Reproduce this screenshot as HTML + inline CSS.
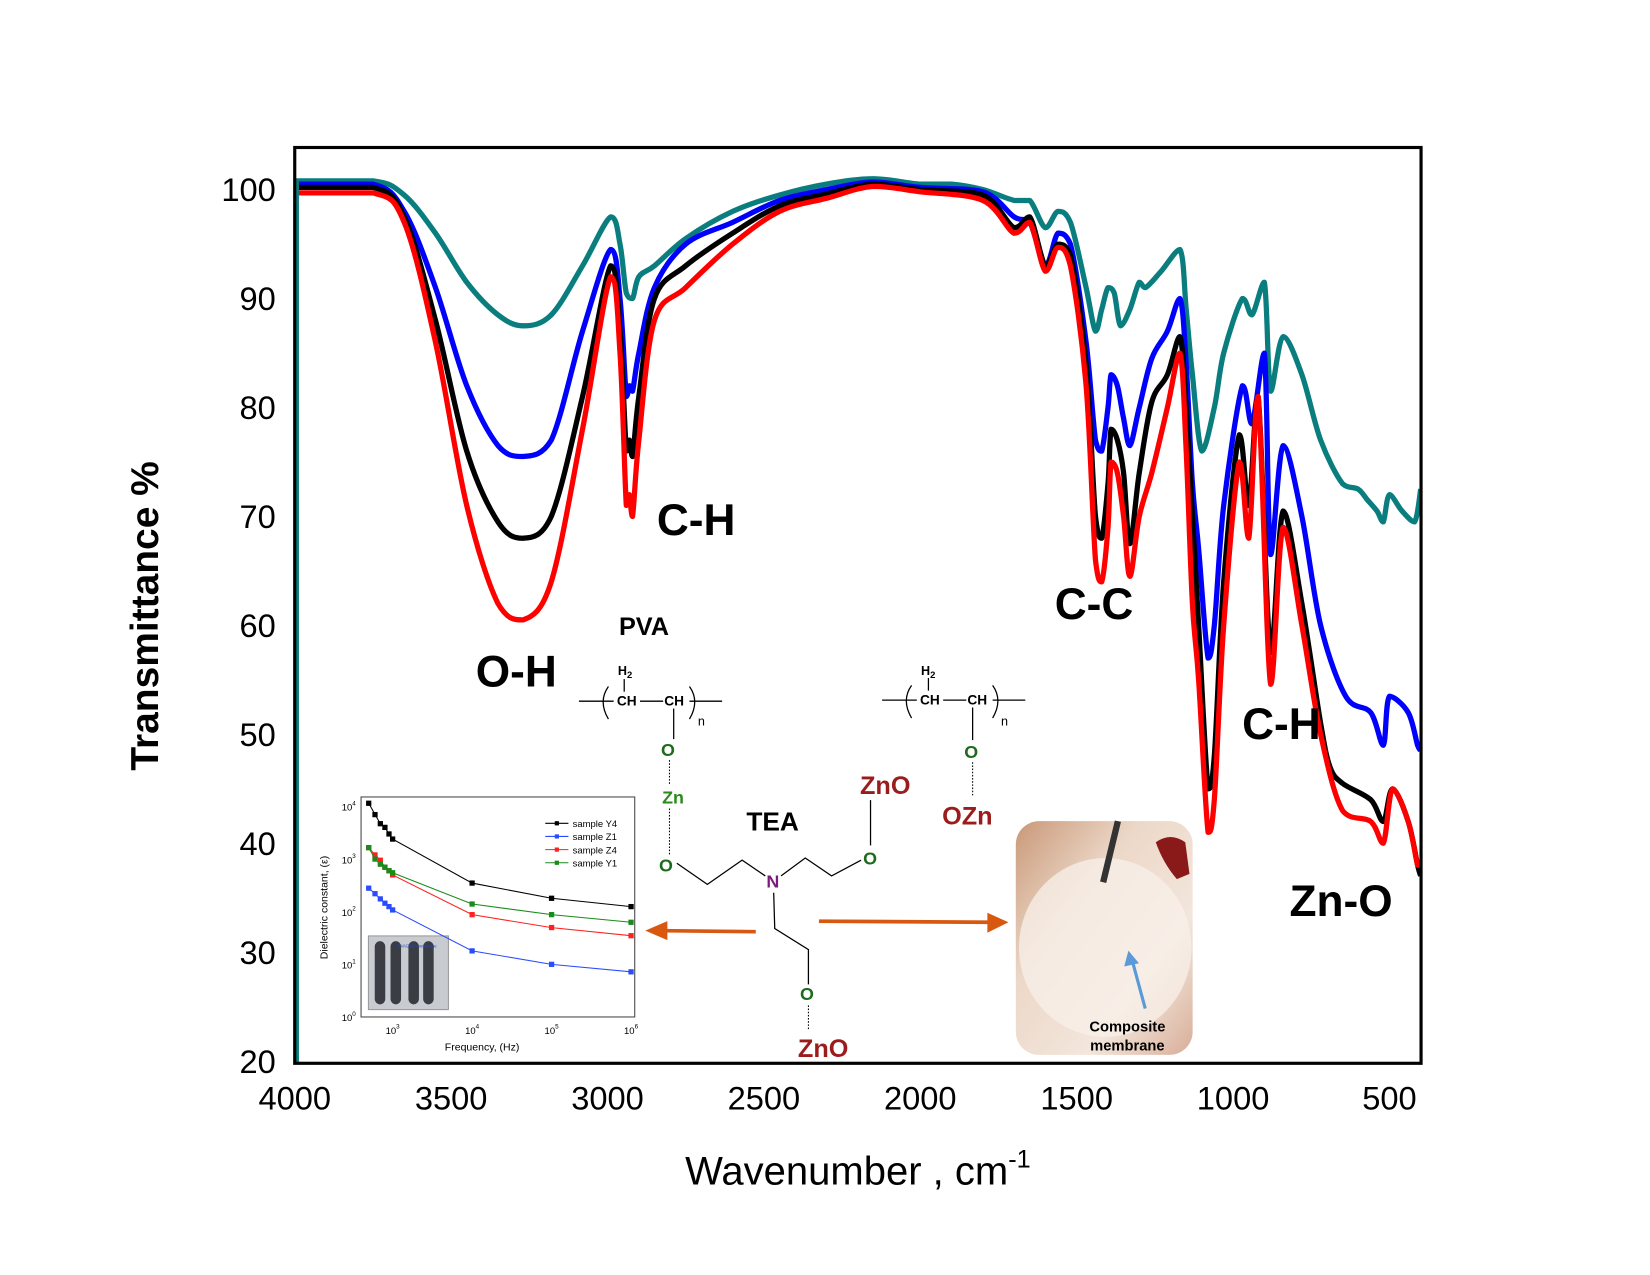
<!DOCTYPE html>
<html><head><meta charset="utf-8"><style>
html,body{margin:0;padding:0;background:#fff;}
svg{display:block;}
text{font-family:"Liberation Sans",sans-serif;}
</style></head><body>
<svg id="chart" width="1650" height="1275" viewBox="0 0 1567.5 1211" xmlns="http://www.w3.org/2000/svg">
<defs>
<linearGradient id="photoG" x1="0" y1="0" x2="1" y2="1">
<stop offset="0" stop-color="#c99878"/><stop offset="0.35" stop-color="#ecd8c8"/><stop offset="0.7" stop-color="#f3e6dc"/><stop offset="1" stop-color="#d8ae98"/>
</linearGradient>
<clipPath id="plotClip"><rect x="280" y="140" width="1070" height="870"/></clipPath>
</defs>
<g id="series" clip-path="url(#plotClip)"></g>
<rect x="280" y="140" width="1070" height="870" fill="none" stroke="#000" stroke-width="3"/>
<g id="yticks"></g>
<g id="xticks"></g>
<text transform="translate(150,585) rotate(-90)" text-anchor="middle" font-size="37" font-weight="bold">Transmittance %</text>
<text x="815" y="1125" text-anchor="middle" font-size="38">Wavenumber , cm<tspan dy="-16" font-size="24">-1</tspan></text>

<g font-weight="bold" font-size="42">
<text x="452" y="652">O-H</text>
<text x="624" y="508">C-H</text>
<text x="1002" y="588">C-C</text>
<text x="1180" y="702">C-H</text>
<text x="1225" y="870">Zn-O</text>
</g>

<g font-weight="bold">
<text x="588" y="603" font-size="24">PVA</text>
<g stroke="#000" stroke-width="1.2" fill="none">
<line x1="550" y1="666" x2="583" y2="666"/><line x1="608" y1="666" x2="630" y2="666"/><line x1="655" y1="666" x2="686" y2="666"/>
<line x1="593" y1="645" x2="593" y2="657"/><line x1="640" y1="673" x2="640" y2="702"/>
<path d="M578 652 Q568 666 578 683"/><path d="M655 652 Q665 666 655 683"/>
</g>
<text x="587" y="641" font-size="12">H<tspan font-size="9" dy="3">2</tspan></text>
<text x="586" y="670" font-size="13">CH</text><text x="631" y="670" font-size="13">CH</text>
<text x="663" y="689" font-size="12" font-weight="normal">n</text>
<text x="628" y="718" font-size="17" fill="#1e6b1e">O</text>
<line x1="636" y1="722" x2="636" y2="745" stroke="#000" stroke-dasharray="1.5 1.5"/>
<text x="629" y="763" font-size="17" fill="#2a8a1a">Zn</text>
<line x1="636" y1="768" x2="636" y2="812" stroke="#000" stroke-dasharray="1.5 1.5"/>
<text x="626" y="828" font-size="17" fill="#1e6b1e">O</text>
<g stroke="#000" stroke-width="1.2" fill="none">
<line x1="838" y1="665" x2="871" y2="665"/><line x1="896" y1="665" x2="918" y2="665"/><line x1="943" y1="665" x2="974" y2="665"/>
<line x1="882" y1="644" x2="882" y2="656"/><line x1="924" y1="672" x2="924" y2="703"/>
<path d="M866 651 Q856 665 866 682"/><path d="M943 651 Q953 665 943 682"/>
</g>
<text x="875" y="641" font-size="12">H<tspan font-size="9" dy="3">2</tspan></text>
<text x="874" y="669" font-size="13">CH</text><text x="919" y="669" font-size="13">CH</text>
<text x="951" y="689" font-size="12" font-weight="normal">n</text>
<text x="916" y="720" font-size="17" fill="#1e6b1e">O</text>
<line x1="924" y1="724" x2="924" y2="757" stroke="#000" stroke-dasharray="1.5 1.5"/>
<text x="895" y="783" font-size="24" fill="#9b1c1c">OZn</text>
<text x="709" y="789" font-size="25">TEA</text>
<text x="817" y="754" font-size="24" fill="#9b1c1c">ZnO</text>
<polyline points="643,820 672,840 705,817 727,832" fill="none" stroke="#000" stroke-width="1.2"/>
<polyline points="742,832 765,815 790,832 818,817" fill="none" stroke="#000" stroke-width="1.2"/>
<line x1="827" y1="760" x2="827" y2="803" stroke="#000" stroke-width="1.2"/>
<text x="820" y="821" font-size="17" fill="#1e6b1e">O</text>
<text x="728" y="843" font-size="17" fill="#7b1a7b">N</text>
<polyline points="735,848 736,882 768,902 768,935" fill="none" stroke="#000" stroke-width="1.2"/>
<text x="760" y="950" font-size="17" fill="#1e6b1e">O</text>
<line x1="768" y1="955" x2="768" y2="978" stroke="#000" stroke-dasharray="1.5 1.5"/>
<text x="758" y="1004" font-size="24" fill="#9b1c1c">ZnO</text>
<g><line x1="718" y1="885" x2="630" y2="884" stroke="#d9580f" stroke-width="3.5"/><polygon points="613,884 634,875 634,893" fill="#d9580f"/></g>
<g><line x1="778" y1="875" x2="940" y2="876" stroke="#d9580f" stroke-width="3.5"/><polygon points="958,876 938,867 938,886" fill="#d9580f"/></g>
</g>

<g>
<rect x="965" y="780" width="168" height="222" rx="22" fill="url(#photoG)"/>
<ellipse cx="1050" cy="900" rx="82" ry="85" fill="#f8f0ea" opacity="0.75"/>
<line x1="1048" y1="838" x2="1062" y2="780" stroke="#333" stroke-width="6"/>
<path d="M1098 800 Q1112 790 1126 800 L1130 830 L1118 835 Q1105 820 1098 800 Z" fill="#8a1a1a"/>
<line x1="1088" y1="958" x2="1075" y2="910" stroke="#5a9ad8" stroke-width="3"/>
<polygon points="1072,903 1068,918 1082,915" fill="#5a9ad8"/>
<text x="1071" y="980" text-anchor="middle" font-size="14" font-weight="bold">Composite</text>
<text x="1071" y="998" text-anchor="middle" font-size="14" font-weight="bold">membrane</text>
</g>

<g id="inset">
<rect x="285" y="745" width="323" height="260" fill="#fff"/>
<rect x="343" y="757" width="260" height="209" fill="none" stroke="#444" stroke-width="1"/>
<text transform="translate(311,862) rotate(-90)" text-anchor="middle" font-size="10">Dielectric constant, (ε)</text>
<text x="458" y="998" text-anchor="middle" font-size="10">Frequency, (Hz)</text>
<rect x="350" y="889" width="76" height="70" fill="#c8ccd0" stroke="#999"/>
<g fill="#3a3e44"><rect x="356" y="894" width="10" height="60" rx="5"/><rect x="371" y="894" width="10" height="60" rx="5"/><rect x="388" y="894" width="10" height="60" rx="5"/><rect x="402" y="894" width="10" height="60" rx="5"/></g>
<text x="378" y="900" font-size="4" fill="#2244cc">PVA/ZnO membrane</text>
</g>
<g id="inset-marks"></g>
</svg>
<script>
const wnRed=[4000,3750,3650,3550,3450,3350,3270,3180,3080,2990,2960,2940,2930,2920,2900,2850,2750,2600,2450,2300,2150,2000,1800,1700,1650,1600,1560,1520,1470,1440,1420,1400,1390,1370,1350,1330,1300,1260,1210,1170,1150,1130,1110,1080,1060,1030,980,950,920,880,840,780,720,650,560,520,490,440,410,400];
const tRed=[99.7,99.7,97,86,71,62,60.5,64,78,92,85,71,72,70,77,88,91,95,98,99.2,100.3,99.8,99,96,97,92.5,94.7,93,82,66,64,69,75,74,70,64.5,70,74,80,85,76,62,55,41,44,60,75,68,81,54.6,69,60,50,43,42,40,45,42,38,38];
const wnBlack=[4000,3750,3650,3550,3450,3350,3270,3180,3080,2990,2960,2940,2930,2920,2900,2850,2750,2600,2450,2300,2150,2000,1800,1700,1650,1600,1560,1520,1470,1440,1420,1400,1390,1370,1350,1330,1300,1260,1210,1170,1150,1130,1110,1080,1060,1030,980,950,920,880,840,780,720,690,650,560,520,490,440,410,400];
const tBlack=[100.2,100.2,97.5,88,76,69.5,68,70,81,93,87,76,77,75.5,81,90,93,96,98.5,99.6,100.5,100,99.5,96.5,97.5,93,95,94,84,70,68,73,78,77,74,67.5,74,80.5,83,86.5,80,70,60,45,48,64,77.5,71,81,57.5,70.5,62,51,47,45.5,44,42,45,42,38,37];
const wnBlue=[4000,3750,3650,3550,3450,3350,3270,3180,3080,2990,2960,2940,2930,2920,2900,2850,2750,2600,2450,2300,2150,2000,1800,1700,1650,1600,1560,1520,1470,1440,1420,1400,1390,1370,1350,1330,1300,1260,1210,1170,1150,1130,1110,1080,1060,1030,970,940,900,880,840,780,720,640,560,520,500,440,410,400];
const tBlue=[100.5,100.5,98,91,82,76.5,75.5,77,87,94.5,90,81,82,81.5,85,91,95,97,99,100,100.7,100.2,99.8,97.5,97,93,96,95,86,77,76,80,83,82,79,76.5,80,84.5,87,90,84,73,67,57,60,71,82,78.5,85,66.5,76.5,70,60,53.5,52,49,53.5,52,49,48.5];
const wnTeal=[4000,3750,3650,3550,3450,3350,3270,3180,3080,2990,2960,2940,2920,2900,2850,2750,2600,2450,2300,2150,2000,1900,1800,1700,1650,1600,1560,1520,1470,1440,1420,1400,1380,1360,1330,1300,1280,1230,1170,1150,1130,1100,1060,1030,970,940,900,880,840,780,720,650,600,570,540,520,500,460,420,400];
const tTeal=[100.8,100.8,99.5,96,91.5,88.5,87.5,88.5,93,97.5,95,90.5,90,92,93,95.5,98,99.5,100.5,101,100.5,100.5,100,99,99,96.5,98,97,91,87,89,91,90.5,87.5,89,91.5,91,92.5,94.5,89,83,76,80,85,90,88.5,91.5,81.5,86.5,83,77,73,72.5,71.5,70.5,69.5,72,70.5,69.5,72.5];
const xTickLabels=[4000,3500,3000,2500,2000,1500,1000,500];
const yTickLabels=[20,30,40,50,60,70,80,90,100];

const freqs=[500,600,700,800,900,1000,1e4,1e5,1e6];
const epsY4=[11500,7000,4700,4000,3000,2400,350,180,125];
const epsZ1=[280,220,175,145,125,108,18,10,7.2];
const epsZ4=[1650,1200,950,700,600,500,88,50,35];
const epsY1=[1650,1000,800,700,600,550,140,88,63];
const insetNames=["sample Y4","sample Z1","sample Z4","sample Y1"];

const NS="http://www.w3.org/2000/svg";
function X(w){return 280+(4000-w)*1040/3500;}
function Y(v){return 180+(100-v)*10.35;}
function mk(tag,attrs,parent){const e=document.createElementNS(NS,tag);for(const k in attrs)e.setAttribute(k,attrs[k]);parent.appendChild(e);return e;}

const sg=document.getElementById('series');
function drawSeries(wn,t,color,name){
  const P=wn.map((w,i)=>[X(w),Y(t[i])]);
  let d='M'+P[0][0].toFixed(1)+' '+P[0][1].toFixed(1);
  for(let i=0;i<P.length-1;i++){
    const p0=P[Math.max(0,i-1)],p1=P[i],p2=P[i+1],p3=P[Math.min(P.length-1,i+2)];
    const k=1/6;
    let c1x=p1[0]+(p2[0]-p0[0])*k,c1y=p1[1]+(p2[1]-p0[1])*k;
    let c2x=p2[0]-(p3[0]-p1[0])*k,c2y=p2[1]-(p3[1]-p1[1])*k;
    const lo=Math.min(p1[1],p2[1]),hi=Math.max(p1[1],p2[1]);
    c1y=Math.min(hi,Math.max(lo,c1y));c2y=Math.min(hi,Math.max(lo,c2y));
    d+=' C'+c1x.toFixed(1)+' '+c1y.toFixed(1)+' '+c2x.toFixed(1)+' '+c2y.toFixed(1)+' '+p2[0].toFixed(1)+' '+p2[1].toFixed(1);
  }
  const p=mk('path',{d:d,fill:'none',stroke:color,'stroke-width':5,'stroke-linejoin':'round'},sg);
  
  
}
drawSeries(wnTeal,tTeal,'#0a7e7e','series-teal');
drawSeries(wnBlue,tBlue,'#0000ff','series-blue');
drawSeries(wnBlack,tBlack,'#000000','series-black');
drawSeries(wnRed,tRed,'#ff0000','series-red');
const edge=mk('line',{x1:282,y1:Y(100.8),x2:282,y2:1010,stroke:'#0a7e7e','stroke-width':4},sg);



const yt=document.getElementById('yticks');
yTickLabels.forEach(v=>{
  const t=mk('text',{x:262,y:Y(v)+11,'text-anchor':'end','font-size':31},yt);
  t.textContent=v;
  
  
});
const xt=document.getElementById('xticks');
xTickLabels.forEach(v=>{
  const t=mk('text',{x:X(v),y:1054,'text-anchor':'middle','font-size':31},xt);
  t.textContent=v;
  
  
});

function IX(f){return 373+(Math.log10(f)-3)*75.5;}
function IY(e){return 966-Math.log10(e)*50;}
const ig=document.getElementById('inset');
[3,4,5,6].forEach(k=>{
  const t=mk('text',{x:IX(Math.pow(10,k)),y:982,'text-anchor':'middle','font-size':9},ig);
  t.textContent='10';
  const s=mk('tspan',{'font-size':6,dy:-5},t); s.textContent=k;
  
  
});
[0,1,2,3,4].forEach(k=>{
  const t=mk('text',{x:338,y:IY(Math.pow(10,k))+4,'text-anchor':'end','font-size':9},ig);
  t.textContent='10';
  const s=mk('tspan',{'font-size':6,dy:-5},t); s.textContent=k;
  
  
});
const im=document.getElementById('inset-marks');
const iseries=[[epsY4,'#000'],[epsZ1,'#2a4cff'],[epsZ4,'#ff2020'],[epsY1,'#1a8a1a']];
iseries.forEach((s,si)=>{
  const pts=freqs.map((f,i)=>IX(f).toFixed(1)+','+IY(s[0][i]).toFixed(1)).join(' ');
  const pl=mk('polyline',{points:pts,fill:'none',stroke:s[1],'stroke-width':1},im);
  
  
  freqs.forEach((f,i)=>{
    const m=mk('rect',{x:IX(f)-2.5,y:IY(s[0][i])-2.5,width:5,height:5,fill:s[1]},im);
    
    
  });
  const ly=782+si*12.5;
  mk('line',{x1:518,y1:ly,x2:540,y2:ly,stroke:s[1],'stroke-width':1},im);
  mk('rect',{x:527,y:ly-2,width:4,height:4,fill:s[1]},im);
  const lt=mk('text',{x:544,y:ly+3.5,'font-size':9},im);
  lt.textContent=insetNames[si];
  
  
});
</script>
</body></html>
